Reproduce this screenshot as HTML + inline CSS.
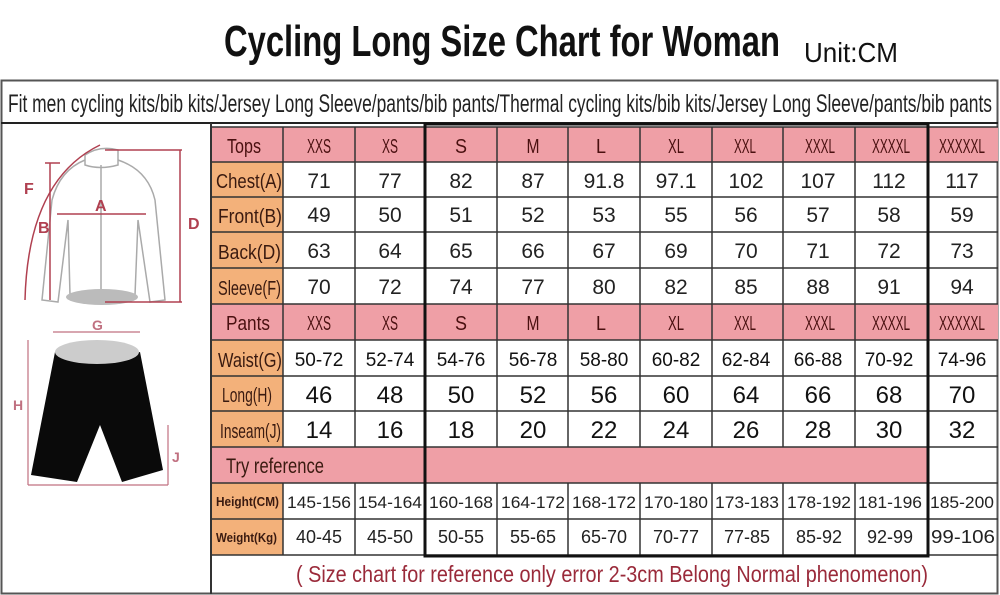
<!DOCTYPE html>
<html><head><meta charset="utf-8"><style>
html,body{margin:0;padding:0;background:#fff;}
svg{display:block;}
text{font-family:"Liberation Sans",sans-serif;}
</style></head><body>
<svg width="1000" height="595" viewBox="0 0 1000 595" xmlns="http://www.w3.org/2000/svg">
<rect width="1000" height="595" fill="#fff"/>
<text x="224" y="56" font-size="44" font-weight="bold" fill="#111" textLength="556" lengthAdjust="spacingAndGlyphs">Cycling Long Size Chart for Woman</text>
<text x="804" y="62" font-size="28" fill="#111" textLength="94" lengthAdjust="spacingAndGlyphs">Unit:CM</text>
<rect x="1.5" y="80.5" width="996" height="513" fill="none" stroke="#555" stroke-width="2"/>
<line x1="1" y1="123" x2="998" y2="123" stroke="#222" stroke-width="2"/>
<text x="8" y="112" font-size="25" fill="#222" textLength="984" lengthAdjust="spacingAndGlyphs">Fit men cycling kits/bib kits/Jersey Long Sleeve/pants/bib pants/Thermal cycling kits/bib kits/Jersey Long Sleeve/pants/bib pants</text>
<line x1="211" y1="123" x2="211" y2="594" stroke="#333" stroke-width="2"/>

<g fill="#ef9fa6">
<rect x="212" y="127" width="786" height="35"/>
<rect x="212" y="304" width="786" height="36"/>
<rect x="212" y="447" width="715" height="36"/>
</g>
<g fill="#f3b17a">
<rect x="212" y="162" width="71" height="142"/>
<rect x="212" y="340" width="71" height="107"/>
<rect x="212" y="483" width="71" height="72"/>
</g>
<g stroke="#333" stroke-width="1.5">
<line x1="212" y1="127" x2="998" y2="127"/>
<line x1="212" y1="162" x2="998" y2="162"/>
<line x1="212" y1="197" x2="998" y2="197"/>
<line x1="212" y1="232" x2="998" y2="232"/>
<line x1="212" y1="268" x2="998" y2="268"/>
<line x1="212" y1="304" x2="998" y2="304"/>
<line x1="212" y1="340" x2="998" y2="340"/>
<line x1="212" y1="376" x2="998" y2="376"/>
<line x1="212" y1="411" x2="998" y2="411"/>
<line x1="212" y1="447" x2="998" y2="447"/>
<line x1="212" y1="483" x2="998" y2="483"/>
<line x1="212" y1="519" x2="998" y2="519"/>
<line x1="212" y1="555" x2="998" y2="555"/>
</g>
<g stroke="#333" stroke-width="1.5">
<line x1="283" y1="127" x2="283" y2="447"/><line x1="283" y1="483" x2="283" y2="555"/>
<line x1="355" y1="127" x2="355" y2="447"/><line x1="355" y1="483" x2="355" y2="555"/>
<line x1="497" y1="127" x2="497" y2="447"/><line x1="497" y1="483" x2="497" y2="555"/>
<line x1="568" y1="127" x2="568" y2="447"/><line x1="568" y1="483" x2="568" y2="555"/>
<line x1="640" y1="127" x2="640" y2="447"/><line x1="640" y1="483" x2="640" y2="555"/>
<line x1="712" y1="127" x2="712" y2="447"/><line x1="712" y1="483" x2="712" y2="555"/>
<line x1="783" y1="127" x2="783" y2="447"/><line x1="783" y1="483" x2="783" y2="555"/>
<line x1="855" y1="127" x2="855" y2="447"/><line x1="855" y1="483" x2="855" y2="555"/>
</g>
<rect x="425" y="124" width="503" height="432" fill="none" stroke="#111" stroke-width="3"/>

<g font-size="20" fill="#4a1010" text-anchor="middle">
<text x="244" y="153" textLength="34" lengthAdjust="spacingAndGlyphs">Tops</text>
<text x="248" y="330" textLength="44" lengthAdjust="spacingAndGlyphs">Pants</text>
</g>
<g font-size="20" fill="#4a1010" text-anchor="middle">
<text x="319" y="153" textLength="24" lengthAdjust="spacingAndGlyphs">XXS</text>
<text x="390" y="153" textLength="16" lengthAdjust="spacingAndGlyphs">XS</text>
<text x="461" y="153" textLength="12" lengthAdjust="spacingAndGlyphs">S</text><text x="533" y="153" textLength="13" lengthAdjust="spacingAndGlyphs">M</text><text x="601" y="153" textLength="10" lengthAdjust="spacingAndGlyphs">L</text>
<text x="676" y="153" textLength="16" lengthAdjust="spacingAndGlyphs">XL</text>
<text x="745" y="153" textLength="22" lengthAdjust="spacingAndGlyphs">XXL</text>
<text x="820" y="153" textLength="30" lengthAdjust="spacingAndGlyphs">XXXL</text>
<text x="891" y="153" textLength="38" lengthAdjust="spacingAndGlyphs">XXXXL</text>
<text x="962" y="153" textLength="46" lengthAdjust="spacingAndGlyphs">XXXXXL</text>
<text x="319" y="330" textLength="24" lengthAdjust="spacingAndGlyphs">XXS</text>
<text x="390" y="330" textLength="16" lengthAdjust="spacingAndGlyphs">XS</text>
<text x="461" y="330" textLength="12" lengthAdjust="spacingAndGlyphs">S</text><text x="533" y="330" textLength="13" lengthAdjust="spacingAndGlyphs">M</text><text x="601" y="330" textLength="10" lengthAdjust="spacingAndGlyphs">L</text>
<text x="676" y="330" textLength="16" lengthAdjust="spacingAndGlyphs">XL</text>
<text x="745" y="330" textLength="22" lengthAdjust="spacingAndGlyphs">XXL</text>
<text x="820" y="330" textLength="30" lengthAdjust="spacingAndGlyphs">XXXL</text>
<text x="891" y="330" textLength="38" lengthAdjust="spacingAndGlyphs">XXXXL</text>
<text x="962" y="330" textLength="46" lengthAdjust="spacingAndGlyphs">XXXXXL</text>
</g>
<g font-size="20" fill="#3a1a10">
<text x="216" y="188" textLength="66" lengthAdjust="spacingAndGlyphs">Chest(A)</text>
<text x="218" y="223" textLength="64" lengthAdjust="spacingAndGlyphs">Front(B)</text>
<text x="218" y="259" textLength="63" lengthAdjust="spacingAndGlyphs">Back(D)</text>
<text x="218" y="295" textLength="63" lengthAdjust="spacingAndGlyphs">Sleeve(F)</text>
<text x="218" y="367" textLength="64" lengthAdjust="spacingAndGlyphs">Waist(G)</text>
<text x="222" y="402" textLength="50" lengthAdjust="spacingAndGlyphs">Long(H)</text>
<text x="220" y="438" textLength="61" lengthAdjust="spacingAndGlyphs">Inseam(J)</text>
<text x="226" y="473" font-size="21" textLength="98" lengthAdjust="spacingAndGlyphs">Try reference</text>
<text x="216" y="506" font-size="13" font-weight="bold" textLength="63" lengthAdjust="spacingAndGlyphs">Height(CM)</text>
<text x="216" y="542" font-size="13" font-weight="bold" textLength="61" lengthAdjust="spacingAndGlyphs">Weight(Kg)</text>
</g>
<g font-size="21" fill="#222" text-anchor="middle">
<text x="319" y="188">71</text><text x="390" y="188">77</text><text x="461" y="188">82</text><text x="533" y="188">87</text><text x="604" y="188">91.8</text><text x="676" y="188">97.1</text><text x="746" y="188">102</text><text x="818" y="188">107</text><text x="889" y="188">112</text><text x="962" y="188">117</text>
<text x="319" y="222">49</text><text x="390" y="222">50</text><text x="461" y="222">51</text><text x="533" y="222">52</text><text x="604" y="222">53</text><text x="676" y="222">55</text><text x="746" y="222">56</text><text x="818" y="222">57</text><text x="889" y="222">58</text><text x="962" y="222">59</text>
<text x="319" y="258">63</text><text x="390" y="258">64</text><text x="461" y="258">65</text><text x="533" y="258">66</text><text x="604" y="258">67</text><text x="676" y="258">69</text><text x="746" y="258">70</text><text x="818" y="258">71</text><text x="889" y="258">72</text><text x="962" y="258">73</text>
<text x="319" y="294">70</text><text x="390" y="294">72</text><text x="461" y="294">74</text><text x="533" y="294">77</text><text x="604" y="294">80</text><text x="676" y="294">82</text><text x="746" y="294">85</text><text x="818" y="294">88</text><text x="889" y="294">91</text><text x="962" y="294">94</text>
</g>
<g font-size="19" fill="#111" text-anchor="middle">
<text x="319" y="366">50-72</text><text x="390" y="366">52-74</text><text x="461" y="366">54-76</text><text x="533" y="366">56-78</text><text x="604" y="366">58-80</text><text x="676" y="366">60-82</text><text x="746" y="366">62-84</text><text x="818" y="366">66-88</text><text x="889" y="366">70-92</text><text x="962" y="366">74-96</text>
</g>
<g font-size="24" fill="#111" text-anchor="middle">
<text x="319" y="403">46</text><text x="390" y="403">48</text><text x="461" y="403">50</text><text x="533" y="403">52</text><text x="604" y="403">56</text><text x="676" y="403">60</text><text x="746" y="403">64</text><text x="818" y="403">66</text><text x="889" y="403">68</text><text x="962" y="403">70</text>
<text x="319" y="438">14</text><text x="390" y="438">16</text><text x="461" y="438">18</text><text x="533" y="438">20</text><text x="604" y="438">22</text><text x="676" y="438">24</text><text x="746" y="438">26</text><text x="818" y="438">28</text><text x="889" y="438">30</text><text x="962" y="438">32</text>
</g>
<g font-size="17" fill="#222" text-anchor="middle">
<text x="319" y="508" textLength="64" lengthAdjust="spacingAndGlyphs">145-156</text><text x="390" y="508" textLength="64" lengthAdjust="spacingAndGlyphs">154-164</text><text x="461" y="508" textLength="64" lengthAdjust="spacingAndGlyphs">160-168</text><text x="533" y="508" textLength="64" lengthAdjust="spacingAndGlyphs">164-172</text><text x="604" y="508" textLength="64" lengthAdjust="spacingAndGlyphs">168-172</text><text x="676" y="508" textLength="64" lengthAdjust="spacingAndGlyphs">170-180</text><text x="747" y="508" textLength="64" lengthAdjust="spacingAndGlyphs">173-183</text><text x="819" y="508" textLength="64" lengthAdjust="spacingAndGlyphs">178-192</text><text x="890" y="508" textLength="64" lengthAdjust="spacingAndGlyphs">181-196</text><text x="962" y="508" textLength="64" lengthAdjust="spacingAndGlyphs">185-200</text>
</g>
<g font-size="18" fill="#222" text-anchor="middle">
<text x="319" y="543">40-45</text><text x="390" y="543">45-50</text><text x="461" y="543">50-55</text><text x="533" y="543">55-65</text><text x="604" y="543">65-70</text><text x="676" y="543">70-77</text><text x="747" y="543">77-85</text><text x="819" y="543">85-92</text><text x="890" y="543">92-99</text><text x="963" y="543" textLength="64" lengthAdjust="spacingAndGlyphs">99-106</text>
</g>
<text x="296" y="582" font-size="23" fill="#9a2a3a" textLength="632" lengthAdjust="spacingAndGlyphs">( Size chart for reference only  error 2-3cm  Belong Normal phenomenon)</text>

<g fill="none" stroke="#aaa" stroke-width="1.5">
<path d="M85 155 Q100 145 118 150 L118 165 Q100 170 85 165 Z"/>
<path d="M85 160 Q60 170 52 200 L42 300 L58 302 L68 220 L70 295 Q100 305 135 295 L138 220 L150 302 L165 300 L155 200 Q148 170 118 160"/>
<line x1="101" y1="165" x2="101" y2="295"/>
</g>
<ellipse cx="102" cy="297" rx="36" ry="8" fill="#bbb"/>
<g fill="none" stroke="#b04050" stroke-width="1.5">
<path d="M25 300 Q28 180 100 145"/>
<line x1="50" y1="163" x2="50" y2="300"/>
<line x1="45" y1="163" x2="60" y2="163"/>
<line x1="57" y1="214" x2="146" y2="214"/>
<line x1="180" y1="150" x2="180" y2="302"/>
<line x1="105" y1="150" x2="182" y2="150"/>
<line x1="105" y1="302" x2="182" y2="302"/>
</g>
<g font-size="16" font-weight="bold" fill="#b04050">
<text x="24" y="194">F</text><text x="38" y="233">B</text><text x="95" y="211">A</text><text x="188" y="229">D</text>
</g>
<g fill="none" stroke="#c07080" stroke-width="1.2">
<line x1="53" y1="332" x2="140" y2="332"/>
<line x1="28" y1="340" x2="28" y2="485"/>
<line x1="28" y1="485" x2="168" y2="485"/>
<line x1="168" y1="425" x2="168" y2="485"/>
</g>
<text x="92" y="330" font-size="14" font-weight="bold" fill="#c07080">G</text>
<text x="13" y="410" font-size="14" font-weight="bold" fill="#c07080">H</text>
<text x="172" y="462" font-size="14" font-weight="bold" fill="#c07080">J</text>
<path d="M55 352 Q100 362 140 352 L163 470 L122 482 L100 425 L77 482 L31 475 Z" fill="#0a0a0a"/>
<ellipse cx="97" cy="352" rx="42" ry="12" fill="#ccc"/>
</svg>
</body></html>
